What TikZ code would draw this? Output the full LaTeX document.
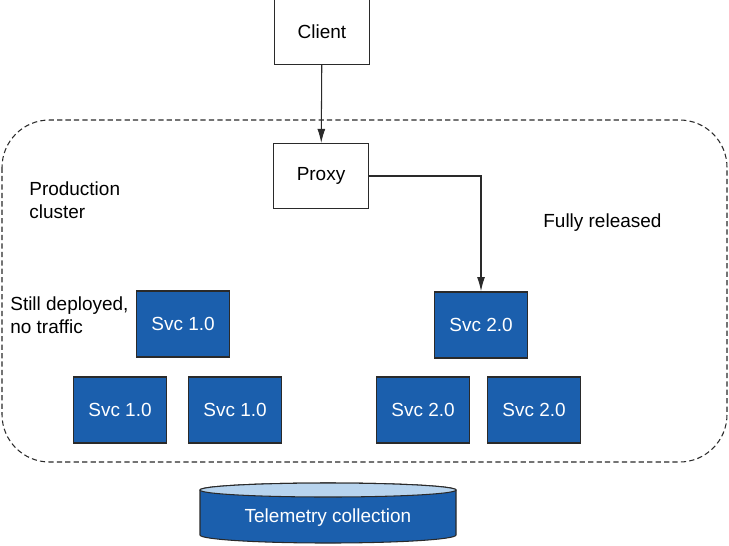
\documentclass[tikz,border=0pt]{standalone}
\usepackage{fontspec}
\setmainfont{Liberation Sans}
\usetikzlibrary{arrows.meta,positioning}
\definecolor{svcblue}{HTML}{1B5FAD}
\definecolor{dbtop}{HTML}{B8D4EE}
\definecolor{edge}{HTML}{2A2A2A}

\begin{document}
\begin{tikzpicture}[x=0.02cm,y=0.02cm,font=\fontsize{10.8}{13}\selectfont]
\tikzstyle{plainbox}=[draw=edge,line width=0.6pt,fill=white,minimum width=1.9cm,minimum height=1.3cm]
\tikzstyle{svc}=[draw=edge,line width=1pt,fill=svcblue,text=white,minimum width=1.86cm,minimum height=1.32cm]
\tikzstyle{note}=[align=left,inner sep=0pt,anchor=west]
\tikzstyle{flow}=[draw=edge,line width=0.6pt,-{Latex[length=8pt,width=4.5pt]}]
\useasboundingbox (0,0) rectangle (729,-545);

% cluster outline
\draw[edge,line width=0.6pt,dash pattern=on 3pt off 1.8pt,rounded corners=0.95cm] (2,-120) rectangle (727,-462);

\node[plainbox] (client) at (322,-32) {Client};
\node[plainbox] (proxy) at (321,-176) {Proxy};

\node[note] (prod) at (29,-200) {Production\\cluster};
\node[note] (released) at (543,-223) {Fully released};
\node[note] (stale) at (10,-315) {Still deployed,\\no traffic};

% old version
\node[svc] (svc1a) at (183,-324) {Svc 1.0};
\node[svc] (svc1b) at (120,-410) {Svc 1.0};
\node[svc] (svc1c) at (235,-410) {Svc 1.0};
% new version
\node[svc] (svc2a) at (481,-325) {Svc 2.0};
\node[svc] (svc2b) at (423,-410) {Svc 2.0};
\node[svc] (svc2c) at (534,-410) {Svc 2.0};

\draw[flow] (client) -- (proxy);
\draw[flow] (proxy.east) -| (svc2a.north);

% telemetry store
\filldraw[fill=svcblue,draw=edge,line width=0.6pt] (200,-490) -- (200,-535)
  arc[start angle=180,end angle=360,x radius=128,y radius=8] -- (456,-490)
  arc[start angle=0,end angle=180,x radius=128,y radius=7] -- cycle;
\filldraw[fill=dbtop,draw=edge,line width=0.6pt] (328,-490) ellipse[x radius=128,y radius=7];
\node[text=white] (telemetry) at (328,-518) {Telemetry collection};
\end{tikzpicture}
\end{document}
